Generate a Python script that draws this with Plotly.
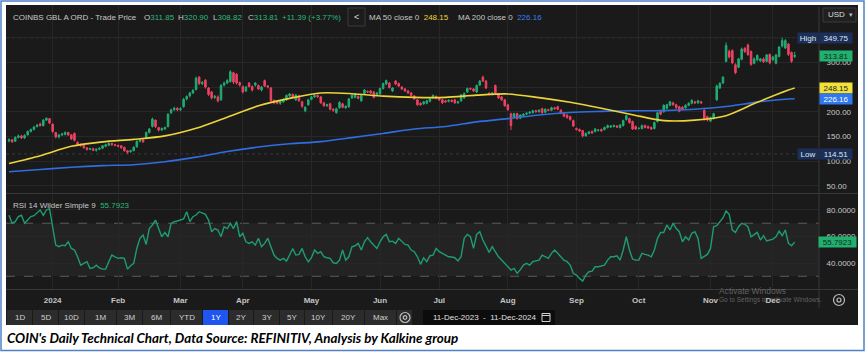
import pandas as pd
import plotly.graph_objects as go

# ---------------- data ----------------
holidays = ["2023-12-25", "2024-01-01", "2024-01-15", "2024-02-19", "2024-03-29",
            "2024-05-27", "2024-06-19", "2024-07-04", "2024-09-02", "2024-11-28"]
tick_labels = ["2024", "Feb", "Mar", "Apr", "May", "Jun", "Jul", "Aug", "Sep", "Oct", "Nov", "Dec"]

opens = [141,143,140,148,151,147,153,160,164,170,
         175,172,183,186,175,158,149,153,154,158,
         153,156,138,134,132,127,124,125,122,124,
         126,130,132,136,133,132,131,128,121,119,
         121,129,140,143,148,158,170,183,168,163,
         165,170,198,204,207,204,210,226,232,238,
         245,270,257,264,248,240,229,230,224,254,
         258,261,279,276,259,251,242,258,251,254,
         253,244,263,252,248,223,222,217,220,224,
         232,235,224,232,220,202,214,225,230,233,
         230,218,212,216,205,198,208,216,208,210,
         228,229,231,222,237,241,242,240,234,236,
         247,256,258,242,262,257,250,246,242,238,
         232,224,217,216,217,221,228,231,227,224,
         222,221,223,224,218,222,228,240,247,246,
         240,254,270,262,237,235,253,236,230,224,
         214,196,189,196,187,192,195,197,198,202,
         200,206,199,204,203,208,210,203,197,193,
         190,182,166,164,162,151,156,160,160,162,
         164,164,168,169,170,171,168,172,184,186,
         180,170,166,166,172,170,168,166,180,202,
         200,207,213,218,214,210,209,208,213,217,
         220,218,220,203,190,181,186,224,248,258,
         302,322,324,295,290,306,328,335,322,298,
         305,303,307,302,316,305,298,312,333,329,
         337,320,311.85]
closes = [143,139,148,151,147,152,160,164,169,173,
          172,183,187,177,160,149,153,155,158,153,
          145,142,134,132,127,124,125,122,124,126,
          131,133,136,133,132,130,127,121,118,121,
          128,140,143,139,158,165,185,170,163,166,
          168,195,204,207,204,206,225,231,238,243,
          268,257,259,250,235,228,231,222,253,258,
          263,281,260,258,254,240,250,251,244,258,
          246,250,252,250,222,218,217,221,225,233,
          236,229,234,222,211,209,224,230,233,230,
          218,212,214,205,203,206,219,209,211,226,
          233,236,227,233,244,240,238,229,238,247,
          257,263,249,248,256,252,246,242,238,233,
          226,214,214,220,222,226,233,227,224,218,
          220,223,221,218,220,234,237,247,246,242,
          253,262,262,248,235,238,238,228,224,212,
          204,172,196,186,193,195,197,199,202,200,
          203,198,205,203,208,206,205,197,191,188,
          184,171,164,161,151,156,159,157,165,163,
          161,168,172,171,172,169,173,182,192,178,
          165,165,166.5,172,168,167,165,178,198,195,
          213,214,220,214,208,201,205,213,217,223,
          218,222,218,184,183,188,196,252,257,270,
          334,311,299,279,307,327,322,316,296,307,
          314,307,301,315,299,311,315,331,344,344,
          316,302,313.81]
highs = [146,145,150,154,153,154,162,166,171,175,
         178,185,188,187,176,159,155,157,160,159,
         155,158,140,136,133,128,127,127,126,128,
         132,135,138,137,135,133,132,129,122,123,
         130,142,145,145,160,167,188,184,169,168,
         170,197,206,210,209,209,228,233,240,246,
         271,272,262,266,250,242,234,233,256,261,
         266,284,281,278,261,253,252,260,253,260,
         255,252,265,254,250,225,224,223,227,235,
         238,237,236,234,222,211,226,232,235,235,
         232,220,216,218,207,208,221,218,213,228,
         235,238,233,235,246,243,244,242,240,249,
         259,265,260,250,264,259,252,248,244,240,
         234,226,219,222,224,228,235,233,229,226,
         224,225,225,226,222,236,239,249,249,248,
         255,264,273,264,240,240,255,238,232,226,
         216,198,198,198,195,197,199,201,204,204,
         205,208,207,206,210,210,212,205,199,195,
         192,184,168,166,163,158,161,162,167,165,
         166,170,174,173,174,173,175,184,194,188,
         182,172,168,174,174,172,170,180,200,204,
         215,216,222,220,216,212,211,215,219,225,
         222,224,222,205,192,190,198,255,260,272,
         340,326,326,298,309,330,331,338,324,310,
         316,309,310,317,318,313,317,333,349.75,347,
         339,322,320.90]
lows = [138,137,139,146,145,145,152,158,162,168,
        170,170,181,175,157,146,146,151,152,151,
        143,140,131,129,125,121,122,120,119,122,
        124,128,130,131,130,128,125,119,114.51,117,
        120,127,138,137,146,156,168,167,160,161,
        163,168,195,202,201,201,208,223,229,236,
        243,254,254,247,232,225,226,219,222,251,
        256,259,256,255,251,237,240,249,241,251,
        244,241,250,247,220,215,215,214,218,222,
        230,227,222,220,208,199,212,223,228,228,
        216,210,210,203,200,196,206,207,206,208,
        226,227,225,220,235,238,236,227,232,234,
        245,254,247,240,254,250,244,240,236,231,
        224,212,212,214,215,219,226,225,222,216,
        218,219,219,216,216,220,226,238,244,240,
        238,252,260,246,233,233,236,226,222,210,
        202,163,186,184,185,190,193,195,196,198,
        198,196,197,201,201,204,203,195,189,186,
        182,169,162,159,148,150,154,155,158,160,
        159,162,166,167,168,167,166,170,182,176,
        163,163,164,164,166,165,163,164,178,193,
        198,205,211,212,206,199,203,206,211,215,
        216,216,216,182,180,179,184,222,246,256,
        300,308,296,276,288,304,319,313,293,296,
        302,301,299,300,296,303,296,310,330,327,
        313,299,308.82]

ma_days = [0, 10, 20, 30, 40, 50, 60, 70, 80, 90, 100, 110, 120, 130, 140, 150,
           160, 170, 180, 190, 200, 210, 220, 230, 240, 250, 252]
ma50 = [95, 111, 130, 139, 144, 151, 166.5, 189, 212, 227, 238, 236.5, 231.5, 229, 229,
        233.5, 236, 228.5, 219, 207, 194, 182, 183, 192, 219, 244, 248.15]
ma200 = [78.5, 83, 87.5, 90.8, 92.7, 98.6, 108, 119.5, 128.5, 135, 139.5, 147.5, 156, 165,
         170, 179.5, 186, 193.5, 198.5, 200.6, 202, 202.2, 205, 210.5, 219.5, 225.6, 226.16]

rsi = [76, 70, 71.2, 75, 76, 70, 72.4, 75, 75.7, 77.5,
       80, 76, 80, 81, 67, 53.5, 52.3, 53.5, 53, 56,
       51, 49.8, 44.7, 38.4, 39.7, 41, 35.9, 36.4, 38.4, 36.4,
       35.4, 35.4, 41, 46, 44.7, 43.5, 44, 43.5, 35.4, 38,
       39.7, 51, 58.6, 61.1, 54, 66, 68.7, 72.4, 66, 59.8,
       63, 59.8, 69.9, 71.2, 71.7, 72.2, 73.2, 78.7, 71.2, 74.9,
       76.2, 78.7, 77.5, 76.7, 72.4, 63.6, 66, 64.9, 59.8, 67.4,
       66, 69.9, 66, 71.2, 59.8, 62.4, 56, 54.8, 56, 53.5,
       58.6, 52.3, 54.8, 58.6, 52.3, 46, 43.5, 42.2, 43.5, 41.5,
       46, 51, 46, 46.5, 51, 44.7, 41, 44, 49.8, 47.3,
       48.5, 44.7, 44, 43.5, 40.2, 39.7, 42.2, 49.8, 42.2, 44.7,
       52.3, 53, 54.8, 49.8, 56, 59.1, 56, 53.5, 51, 56,
       59.8, 61.6, 56, 56.5, 54.8,
       58.6, 56, 54, 53.5, 49.8, 48.5, 44.7, 39, 44, 41,
       45.5, 46, 51, 48.5, 47.3, 46, 44.7, 44.5, 44, 41.5,
       44.7, 58.6, 61.6, 59.8, 51, 61.6, 63.6, 57.3, 52.3, 48,
       52.3, 48.5, 44.7, 42.2, 39.7, 36.4, 34.7, 36, 32.2, 35,
       38.4, 39.7, 38.4, 41, 41.5, 42.2, 46, 44.7, 43.5, 47.3,
       49.8, 47.3, 44.7, 42.2, 41, 38.4, 32.2, 30.9, 28.4, 26.4,
       30.9, 33.4, 33.9, 37.2, 37.2, 38, 38.4, 42.2, 44.7, 44.7,
       45.5, 42.2, 49.8, 59.8, 49.8, 43, 42.2, 42.2, 47.3, 46.5,
       46, 44.7, 49.8, 58.6, 63, 63, 68.7, 64.9, 69.9, 66,
       63.6, 56, 59.8, 57.3, 62.4, 63.6, 58.6, 43.5, 44.7, 46.5,
       51, 67.4, 68.1, 71.2, 74, 79.2, 76.7, 64.9, 63.1, 67.4,
       69.9, 69.2, 67.4, 59.8, 61.6, 63.1, 57.3, 60.6, 56.6, 57.5,
       58, 59.8, 64.1, 60.6, 64.9, 54.8, 53, 55.7923]

price_ticks = [50, 100, 150, 200, 250, 300, 350]
price_tick_text = ["50.00", "100.00", "150.00", "200.00", "", "300.00", ""]  # 250/350 sit under tags
rsi_ticks = [40, 60, 80]
rsi_tick_text = ["40.0000", "60.0000", "80.0000"]
rsi_levels = [30, 70]
quote = {"O": "311.85", "H": "320.90", "L": "308.82", "C": "313.81"}
change_text = "+11.39 (+3.77%)"
last_close = 313.81
ma50_last = 248.15
ma200_last = 226.16
high_52w = 349.75
low_52w = 114.51
rsi_last = 55.7923
buttons = ["1D", "5D", "10D", "1M", "3M", "6M", "YTD", "1Y", "2Y", "3Y", "5Y", "10Y", "20Y", "Max"]
date_range_text = "11-Dec-2023  -  11-Dec-2024"
caption = "COIN's Daily Technical Chart, Data Source: REFINITIV, Analysis by Kalkine group"

# ---------------- derived positions ----------------
dates = [d for d in pd.bdate_range("2023-12-11", "2024-12-11") if d.strftime("%Y-%m-%d") not in holidays]
idx = list(range(len(dates)))
month_ticks = [i for i in idx[1:] if dates[i].month != dates[i - 1].month]

W, H = 866, 352
def PX(x): return x / W
def PY(y): return 1 - y / H

GREEN = "#20ad74"; RED = "#ef4262"; YEL = "#ecd43a"; BLUE = "#2f6de0"; RSIC = "#1e9c74"
BG = "#1a1a1a"; GRID = "#272727"; SEP = "#383838"; TXT = "#c8c8c8"; VALG = "#2bb97f"
FONT = "Liberation Sans, Arial, sans-serif"

fig = go.Figure()
fig.add_trace(go.Candlestick(
    x=idx, open=opens, high=highs, low=lows, close=closes,
    increasing=dict(line=dict(color=GREEN, width=1), fillcolor=GREEN),
    decreasing=dict(line=dict(color=RED, width=1), fillcolor=RED),
    whiskerwidth=0, xaxis="x", yaxis="y", showlegend=False, hoverinfo="skip"))
fig.add_trace(go.Scatter(x=ma_days, y=ma200, mode="lines",
                         line=dict(color=BLUE, width=1.6, shape="spline", smoothing=0.8),
                         xaxis="x", yaxis="y", hoverinfo="skip"))
fig.add_trace(go.Scatter(x=ma_days, y=ma50, mode="lines",
                         line=dict(color=YEL, width=1.6, shape="spline", smoothing=0.8),
                         xaxis="x", yaxis="y", hoverinfo="skip"))
fig.add_trace(go.Scatter(x=idx, y=rsi, mode="lines", line=dict(color=RSIC, width=1.4),
                         xaxis="x2", yaxis="y2", hoverinfo="skip"))

xr = [-0.96, 259.8]
xcommon = dict(range=xr, domain=[PX(6), PX(819)], tickvals=month_ticks, showgrid=True,
               gridcolor=GRID, gridwidth=1, zeroline=False, showline=False, fixedrange=True)
ycommon = dict(side="right", ticks="outside", ticklen=5, tickcolor="rgba(0,0,0,0)",
               tickfont=dict(family=FONT, size=8, color=TXT), gridcolor=GRID, gridwidth=1,
               zeroline=False, showline=False, fixedrange=True)

shapes = []
# outer blue frame and dark chart body
shapes.append(dict(type="rect", xref="paper", yref="paper", x0=PX(1), x1=PX(864), y0=PY(350.5), y1=PY(1),
                   line=dict(color="#4f81c6", width=1.5), fillcolor="white", layer="below"))
shapes.append(dict(type="rect", xref="paper", yref="paper", x0=PX(6), x1=PX(858), y0=PY(325), y1=PY(5),
                   line=dict(width=0), fillcolor=BG, layer="below"))
# RSI 30-70 band + dashed levels
shapes.append(dict(type="rect", xref="paper", yref="y2", x0=PX(6), x1=PX(819), y0=rsi_levels[0], y1=rsi_levels[1],
                   line=dict(width=0), fillcolor="#232323", layer="below"))
for lv in rsi_levels:
    shapes.append(dict(type="line", xref="paper", yref="y2", x0=PX(6), x1=PX(819), y0=lv, y1=lv,
                       line=dict(color="#5c5c5c", width=1, dash="dash"), layer="below"))
# high / low reference lines
for lv in [high_52w, low_52w]:
    shapes.append(dict(type="line", xref="paper", yref="y", x0=PX(6), x1=PX(819), y0=lv, y1=lv,
                       line=dict(color="#34393f", width=1, dash="dot"), layer="below"))
# separators
for yy in [193.5, 289.5]:
    shapes.append(dict(type="line", xref="paper", yref="paper", x0=PX(6), x1=PX(858), y0=PY(yy), y1=PY(yy),
                       line=dict(color=SEP, width=1)))
shapes.append(dict(type="line", xref="paper", yref="paper", x0=PX(819), x1=PX(819), y0=PY(308), y1=PY(7),
                   line=dict(color=SEP, width=1)))
# USD box and '<' button
shapes.append(dict(type="rect", xref="paper", yref="paper", x0=PX(823), x1=PX(856), y0=PY(22), y1=PY(8),
                   line=dict(color="#3a3a3a", width=1), fillcolor="#202020"))
shapes.append(dict(type="rect", xref="paper", yref="paper", x0=PX(348), x1=PX(365), y0=PY(26), y1=PY(8),
                   line=dict(color="#3a3a3a", width=1), fillcolor="#1c1c1c"))
# toolbar
edges = [7, 33, 59, 85, 117, 143, 171, 203, 229, 254, 280, 305, 333, 365, 397, 413]
annotations = []
for k in range(len(edges) - 1):
    x0, x1 = edges[k], edges[k + 1] - 1
    is_sel = k < len(buttons) and buttons[k] == "1Y"
    shapes.append(dict(type="rect", xref="paper", yref="paper", x0=PX(x0), x1=PX(x1), y0=PY(325), y1=PY(310),
                       line=dict(width=0), fillcolor="#1f55f0" if is_sel else "#2c2c2c"))
    if k < len(buttons):
        annotations.append(dict(x=PX((x0 + x1) / 2), y=PY(317.5), xref="paper", yref="paper", text=buttons[k],
                                showarrow=False, xanchor="center", yanchor="middle",
                                font=dict(family=FONT, size=8, color="#ffffff" if is_sel else "#cfcfcf")))
# toolbar gear
cx, cy = 405, 317.5
for r, w in [(5, 1.2), (1.8, 1.2)]:
    shapes.append(dict(type="circle", xref="paper", yref="paper", x0=PX(cx - r), x1=PX(cx + r), y0=PY(cy + r), y1=PY(cy - r),
                       line=dict(color="#bdbdbd", width=w)))
# right gear
cx, cy = 839, 300
for r, w in [(5.5, 1.2), (2, 1.2)]:
    shapes.append(dict(type="circle", xref="paper", yref="paper", x0=PX(cx - r), x1=PX(cx + r), y0=PY(cy + r), y1=PY(cy - r),
                       line=dict(color="#bdbdbd", width=w)))
# date box
shapes.append(dict(type="rect", xref="paper", yref="paper", x0=PX(423), x1=PX(555), y0=PY(325), y1=PY(310),
                   line=dict(width=0), fillcolor="#0c0c0c"))
shapes.append(dict(type="rect", xref="paper", yref="paper", x0=PX(542), x1=PX(550), y0=PY(321.5), y1=PY(313.5),
                   line=dict(color="#d0d0d0", width=1)))
shapes.append(dict(type="line", xref="paper", yref="paper", x0=PX(542), x1=PX(550), y0=PY(315.5), y1=PY(315.5),
                   line=dict(color="#d0d0d0", width=1)))
annotations.append(dict(x=PX(484), y=PY(317.5), xref="paper", yref="paper", text=date_range_text, showarrow=False,
                        xanchor="center", yanchor="middle", font=dict(family=FONT, size=8, color="#e0e0e0")))

# header texts
def hdr(x, text, y=17, size=8):
    annotations.append(dict(x=PX(x), y=PY(y), xref="paper", yref="paper", text=text, showarrow=False,
                            xanchor="left", yanchor="middle", font=dict(family=FONT, size=size, color=TXT)))

hdr(11, "COINBS GBL A ORD - Trade Price")
for xpos, key in zip([142, 176, 211, 246], ["O", "H", "L", "C"]):
    hdr(xpos, f"{key}<span style='color:{VALG}'>{quote[key]}</span>")
hdr(280, f"<span style='color:{VALG}'>{change_text}</span>")
annotations.append(dict(x=PX(356.5), y=PY(17), xref="paper", yref="paper", text="<", showarrow=False,
                        xanchor="center", yanchor="middle", font=dict(family=FONT, size=9, color="#dddddd")))
hdr(367, f"MA 50 close 0  <span style='color:{YEL}'>{ma50_last:.2f}</span>")
hdr(456, f"MA 200 close 0  <span style='color:#3c7ff0'>{ma200_last:.2f}</span>")
hdr(11, f"RSI 14 Wilder Simple 9  <span style='color:{VALG}'>{rsi_last:.4f}</span>", y=205)
annotations.append(dict(x=PX(826), y=PY(15), xref="paper", yref="paper", text="USD", showarrow=False,
                        xanchor="left", yanchor="middle", font=dict(family=FONT, size=8, color="#dddddd")))
annotations.append(dict(x=PX(851), y=PY(15), xref="paper", yref="paper", text="▾", showarrow=False,
                        xanchor="center", yanchor="middle", font=dict(family=FONT, size=7, color="#bbbbbb")))

# axis tags
def tag(xc, w, y, yref, text, bg, fg):
    annotations.append(dict(x=PX(xc), y=y, xref="paper", yref=yref, text=text, showarrow=False,
                            xanchor="center", yanchor="middle", width=w, height=10, bgcolor=bg,
                            borderpad=0, font=dict(family=FONT, size=8, color=fg)))

tag(808, 20, high_52w, "y", "High", "#1c2f58", "#dfe6f5")
tag(836, 32, high_52w, "y", f"{high_52w:.2f}", "#1c2f58", "#dfe6f5")
tag(836, 32, last_close, "y", f"{last_close:.2f}", "#22b06f", "#0e2a1c")
tag(836, 32, ma50_last, "y", f"{ma50_last:.2f}", "#f2e03c", "#1c1c1c")
tag(836, 32, ma200_last, "y", f"{ma200_last:.2f}", "#2f78f0", "#ffffff")
tag(808, 20, low_52w, "y", "Low", "#1c2f58", "#dfe6f5")
tag(836, 32, low_52w, "y", f"{low_52w:.2f}", "#1c2f58", "#dfe6f5")
tag(837.5, 37, rsi_last, "y2", f"{rsi_last:.4f}", "#22b06f", "#0e2a1c")

# windows watermark
annotations.append(dict(x=PX(717), y=PY(291), xref="paper", yref="paper", text="Activate Windows", showarrow=False,
                        xanchor="left", yanchor="middle", font=dict(family=FONT, size=8.5, color="rgba(190,190,190,0.45)")))
annotations.append(dict(x=PX(717), y=PY(300), xref="paper", yref="paper", text="Go to Settings to activate Windows.",
                        showarrow=False, xanchor="left", yanchor="middle",
                        font=dict(family=FONT, size=6.5, color="rgba(190,190,190,0.45)")))
# caption
annotations.append(dict(x=PX(5), y=PY(338), xref="paper", yref="paper", text=f"<b><i>{caption}</i></b>",
                        showarrow=False, xanchor="left", yanchor="middle",
                        font=dict(family="Lato, Liberation Sans, sans-serif", size=13.4, color="#000000")))

fig.update_layout(
    width=W, height=H, margin=dict(l=0, r=0, t=0, b=0),
    paper_bgcolor="white", plot_bgcolor="rgba(0,0,0,0)", showlegend=False,
    xaxis=dict(**xcommon, anchor="y", showticklabels=False, rangeslider=dict(visible=False)),
    xaxis2=dict(**xcommon, anchor="y2", ticktext=tick_labels, showticklabels=True, ticks="outside",
                ticklen=3, tickcolor="rgba(0,0,0,0)",
                tickfont=dict(family=FONT, size=8, color="#c4c4c4", weight="bold")),
    yaxis=dict(**ycommon, domain=[PY(193), PY(5)], range=[35.4, 416.1], anchor="x",
               tickvals=price_ticks, ticktext=price_tick_text),
    yaxis2=dict(**ycommon, domain=[PY(289), PY(195)], range=[20.4, 91.3], anchor="x2",
                tickvals=rsi_ticks, ticktext=rsi_tick_text),
    shapes=shapes, annotations=annotations,
)

fig.write_html("out.html")
